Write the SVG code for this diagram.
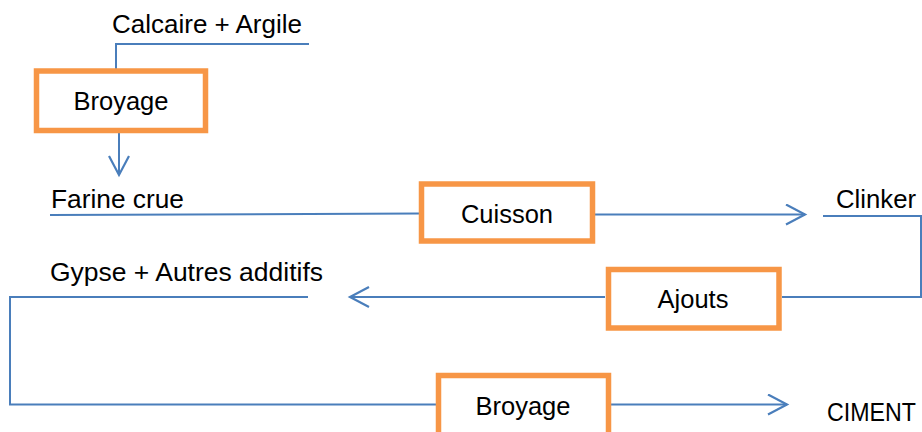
<svg xmlns="http://www.w3.org/2000/svg" width="922" height="432" viewBox="0 0 922 432">
<style>
.box{fill:#fff;stroke:#F79646;stroke-width:5.5;}
.ln{fill:none;stroke:#4A7EBB;stroke-width:2;}
.t{font-family:"Liberation Sans",Arial,sans-serif;font-size:25.5px;fill:#000;}
.c{text-anchor:middle;}
</style>
<defs>
<marker id="ah" markerWidth="24" markerHeight="24" refX="20" refY="11" orient="auto" markerUnits="userSpaceOnUse">
<path d="M1,1 L20,11 L1,21" fill="none" stroke="#4A7EBB" stroke-width="2.2"/>
</marker>
</defs>
<rect width="922" height="432" fill="#fff"/>
<g id="connectors">
<polyline class="ln" points="309,44 116,44 116,71"/>
<line class="ln" x1="119" y1="133" x2="119" y2="175" marker-end="url(#ah)"/>
<line class="ln" x1="50" y1="215" x2="419" y2="213.5"/>
<line class="ln" x1="595" y1="214.5" x2="805" y2="214.5" marker-end="url(#ah)"/>
<polyline class="ln" points="823,216 921,216 921,297 782,297"/>
<line class="ln" x1="605" y1="297" x2="350" y2="297" marker-end="url(#ah)"/>
<polyline class="ln" points="308,297 10,297 10,404.5 436,404.5"/>
<line class="ln" x1="611" y1="404.5" x2="787" y2="404.5" marker-end="url(#ah)"/>
</g>
<g id="label-calcaire"><text class="t" x="112" y="33" textLength="190" lengthAdjust="spacingAndGlyphs">Calcaire + Argile</text></g>
<g id="node-broyage1">
<rect class="box" x="36.5" y="71" width="169" height="59.5"/>
<text class="t c" x="121" y="110">Broyage</text>
</g>
<g id="label-farine"><text class="t" x="51" y="208" textLength="133" lengthAdjust="spacingAndGlyphs">Farine crue</text></g>
<g id="node-cuisson">
<rect class="box" x="421.5" y="184" width="171" height="57"/>
<text class="t c" x="507" y="223">Cuisson</text>
</g>
<g id="label-clinker"><text class="t" x="836" y="208" textLength="80" lengthAdjust="spacingAndGlyphs">Clinker</text></g>
<g id="label-gypse"><text class="t" x="50" y="281" textLength="273" lengthAdjust="spacingAndGlyphs">Gypse + Autres additifs</text></g>
<g id="node-ajouts">
<rect class="box" x="608.5" y="269.5" width="170.5" height="58.5"/>
<text class="t c" x="693" y="308">Ajouts</text>
</g>
<g id="node-broyage2">
<rect class="box" x="438.5" y="375.5" width="170" height="70"/>
<text class="t c" x="523" y="415">Broyage</text>
</g>
<g id="label-ciment"><text class="t" x="827" y="421" font-size="24" textLength="89" lengthAdjust="spacingAndGlyphs">CIMENT</text></g>
</svg>
